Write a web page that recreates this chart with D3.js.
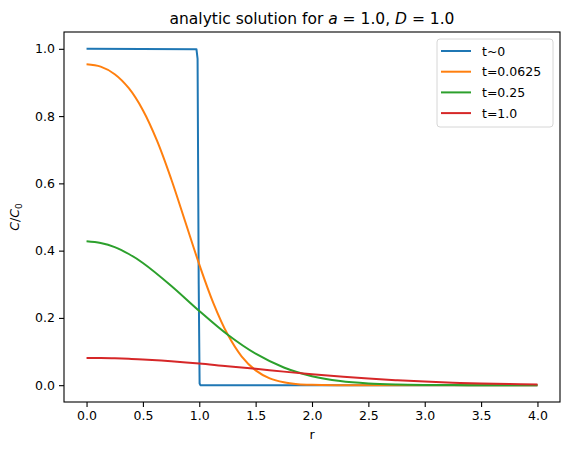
<!DOCTYPE html>
<html>
<head>
<meta charset="utf-8">
<script src="https://cdn.jsdelivr.net/npm/d3@7"></script>
<style>
  body { margin: 0; background: #fff; }
  svg { display: block; font-family: "DejaVu Sans", sans-serif; }
</style>
</head>
<body>
<div id="chart"></div>
<script>
// values
const rStep = [0, 0.975, 0.985, 0.995, 1.003, 1.01, 4.0];
const cStep = [1, 0.999, 0.97, 0.3, 0.005, 0, 0];

const rShort = [0, 0.125, 0.25, 0.375, 0.5, 0.625, 0.75, 0.875, 1.0, 1.125, 1.25, 1.375,
  1.5, 1.625, 1.75, 1.875, 2.0, 2.25, 2.5, 3.0, 3.5, 4.0];
const cShort = [0.954, 0.947, 0.9245, 0.8828, 0.8176, 0.727, 0.6138, 0.4867, 0.359, 0.2441,
  0.1519, 0.086, 0.0441, 0.0204, 0.0085, 0.0031, 0.0011, 0.0001, 0, 0, 0, 0];

const rGrid = [0, 0.125, 0.25, 0.375, 0.5, 0.75, 1.0, 1.25, 1.5, 1.75, 2.0, 2.25, 2.5, 2.75,
  3.0, 3.25, 3.5, 3.75, 4.0];
const cMid = [0.4276, 0.4225, 0.4106, 0.39, 0.3634, 0.2958, 0.2207, 0.1505, 0.0935, 0.0526,
  0.0268, 0.0123, 0.0051, 0.0019, 0.0006, 0.0002, 0.0001, 0, 0];
const cLong = [0.0811, 0.0808, 0.08, 0.0785, 0.0767, 0.0714, 0.0647, 0.0562, 0.0488, 0.0403,
  0.0328, 0.026, 0.0197, 0.0148, 0.0106, 0.0075, 0.0051, 0.0033, 0.0022];

const labels = ["t~0", "t=0.0625", "t=0.25", "t=1.0"];
const colors = ["#1f77b4", "#ff7f0e", "#2ca02c", "#d62728"];
const xTicks = [0, 0.5, 1, 1.5, 2, 2.5, 3, 3.5, 4];
const yTicks = [0, 0.2, 0.4, 0.6, 0.8, 1.0];

const smooth = d3.curveCatmullRom.alpha(0.5);
const series = [
  { r: rStep, c: cStep, curve: d3.curveLinear },
  { r: rShort, c: cShort, curve: smooth },
  { r: rGrid, c: cMid, curve: smooth },
  { r: rGrid, c: cLong, curve: smooth },
];

const width = 569;
const height = 455;
const margin = { top: 32, right: 9, bottom: 53, left: 64 };

const svg = d3.select("#chart").append("svg")
  .attr("width", width)
  .attr("height", height);

const x = d3.scaleLinear().domain([-0.2, 4.2]).range([margin.left, width - margin.right]);
const y = d3.scaleLinear().domain([-0.05, 1.05]).range([height - margin.bottom, margin.top]);

const line = d3.line();

series.forEach((s, i) => {
  const pts = s.r.map((r, j) => [x(r), y(s.c[j])]);
  svg.append("path")
    .attr("d", line.curve(s.curve)(pts))
    .attr("fill", "none")
    .attr("stroke", colors[i])
    .attr("stroke-width", 2)
    .attr("stroke-linejoin", "round");
});

const xAxis = svg.append("g")
  .attr("transform", `translate(0,${height - margin.bottom})`)
  .call(d3.axisBottom(x).tickValues(xTicks).tickFormat(d3.format(".1f"))
    .tickSize(5).tickPadding(4));
const yAxis = svg.append("g")
  .attr("transform", `translate(${margin.left},0)`)
  .call(d3.axisLeft(y).tickValues(yTicks).tickFormat(d3.format(".1f"))
    .tickSize(5).tickPadding(4));

[xAxis, yAxis].forEach((g) => {
  g.select(".domain").remove();
  g.selectAll("line").attr("stroke", "#000").attr("stroke-width", 1.1);
  g.selectAll("text").attr("fill", "#000")
    .style("font-size", "12.5px")
    .style("font-family", "DejaVu Sans");
});

// frame
svg.append("rect")
  .attr("x", margin.left)
  .attr("y", margin.top)
  .attr("width", width - margin.left - margin.right)
  .attr("height", height - margin.top - margin.bottom)
  .attr("fill", "none")
  .attr("stroke", "#000")
  .attr("stroke-width", 1.1);

// title
const title = svg.append("text")
  .attr("x", (margin.left + width - margin.right) / 2)
  .attr("y", 24)
  .attr("text-anchor", "middle")
  .style("font-size", "15.5px");
title.append("tspan").text("analytic solution for ");
title.append("tspan").attr("font-style", "italic").text("a");
title.append("tspan").text(" = 1.0, ");
title.append("tspan").attr("font-style", "italic").text("D");
title.append("tspan").text(" = 1.0");

// axis labels
svg.append("text")
  .attr("x", x(2))
  .attr("y", 439)
  .attr("text-anchor", "middle")
  .style("font-size", "12.5px")
  .text("r");

const ylab = svg.append("text")
  .attr("transform", `translate(19,${(margin.top + height - margin.bottom) / 2}) rotate(-90)`)
  .attr("text-anchor", "middle")
  .style("font-size", "12.5px");
ylab.append("tspan").attr("font-style", "italic").text("C");
ylab.append("tspan").text("/");
ylab.append("tspan").attr("font-style", "italic").text("C");
ylab.append("tspan").attr("dy", 3).style("font-size", "9px").text("0");

// legend
const legend = svg.append("g").attr("transform", "translate(437,39)");
legend.append("rect")
  .attr("width", 116)
  .attr("height", 88)
  .attr("rx", 3)
  .attr("fill", "#fff")
  .attr("fill-opacity", 0.8)
  .attr("stroke", "#d6d6d6");
labels.forEach((lab, i) => {
  const yy = 12 + i * 20.7;
  legend.append("line")
    .attr("x1", 4).attr("x2", 34)
    .attr("y1", yy).attr("y2", yy)
    .attr("stroke", colors[i])
    .attr("stroke-width", 2);
  legend.append("text")
    .attr("x", 45)
    .attr("y", yy + 4.5)
    .style("font-size", "12.5px")
    .text(lab);
});
</script>
</body>
</html>
